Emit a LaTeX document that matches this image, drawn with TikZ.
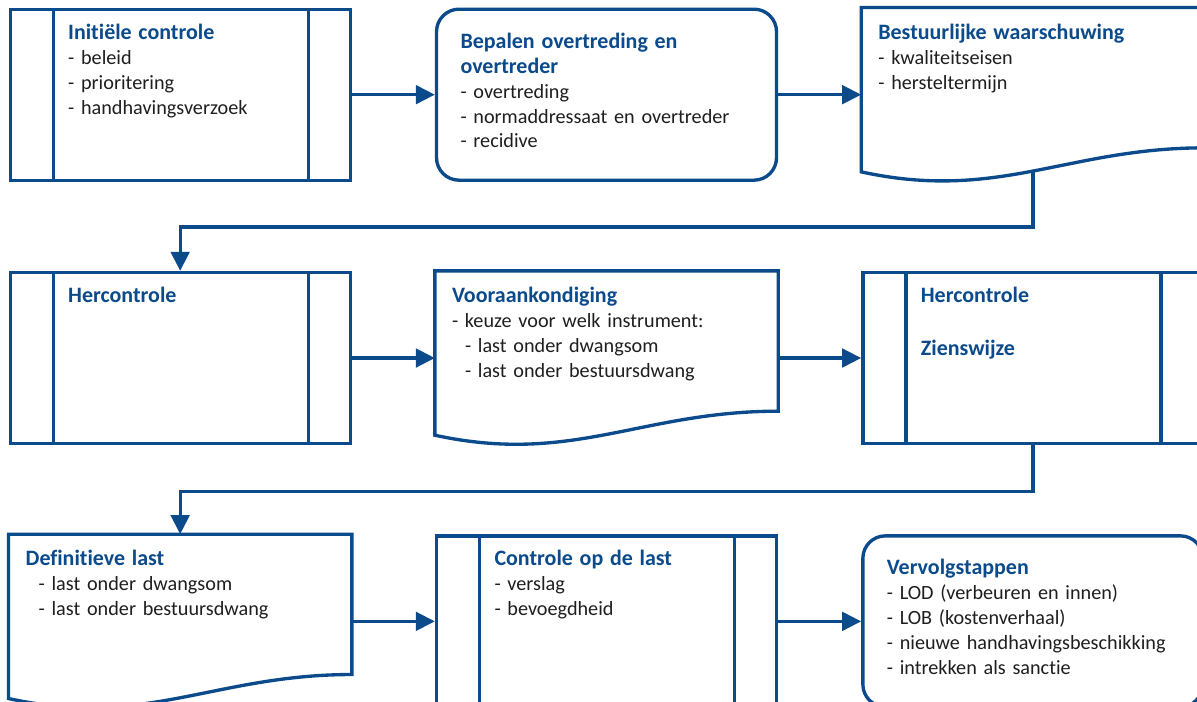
\documentclass[tikz,border=0pt]{standalone}
\usepackage{fontspec}
\setmainfont[Ligatures=CommonOff]{Carlito}
\usetikzlibrary{positioning, arrows.meta, calc}

\definecolor{stepblue}{HTML}{0B4A8B}
\definecolor{steptext}{HTML}{1E1E1E}

\newcommand{\steptitle}[1]{{\fontsize{12.5pt}{14.2pt}\selectfont\bfseries\color{stepblue}#1}}
\newcommand{\docoutline}[1]{%
  \draw[step_line] (#1.north east) -- (#1.north west) -- ([yshift=0.2cm]#1.south west)
    .. controls ($(#1.south west)!0.4!(#1.south east)+(0,-0.4)$)
    and ($(#1.south west)!0.6!(#1.south east)+(0,0.68)$)
    .. ([yshift=0.68cm]#1.south east) coordinate[pos=0.5] (#1-wave) -- cycle;}

\begin{document}
\begin{tikzpicture}[
        node distance=1.78cm and 1.66cm,
        step_line/.style={draw=stepblue, line width=1.9pt},
        base_node/.style={line width=1.9pt, align=left, text=steptext, minimum width=6.8cm, inner ysep=0.17cm, text height=0.43cm, text depth=2.65cm, font=\fontsize{11.5pt}{14.2pt}\selectfont},
        proc_node/.style={base_node, draw=stepblue, text width=4.48cm, inner xsep=1.16cm,
            path picture={\draw[stepblue, line width=1.9pt]
                ([xshift=0.86cm]path picture bounding box.north west) -- ([xshift=0.86cm]path picture bounding box.south west)
                ([xshift=-0.84cm]path picture bounding box.north east) -- ([xshift=-0.84cm]path picture bounding box.south east);}},
        round_node/.style={base_node, draw=stepblue, rounded corners=0.45cm, text width=5.84cm, inner xsep=0.48cm, text height=0.61cm, text depth=2.47cm},
        doc_node/.style={base_node, draw=none, text width=6.18cm, inner xsep=0.31cm},
        flow/.style={-{Triangle[length=0.38cm, width=0.37cm]}, draw=stepblue, line width=1.9pt}
    ]
        \useasboundingbox (0,0) rectangle (23.94,-14.02);
        \clip (0,0) rectangle (23.94,-14.02);

        % Nodes
        \node (initieel) [proc_node, anchor=north west] at (0.17,-0.15) {\steptitle{Initiële controle}\\- beleid\\- prioritering\\- handhavingsverzoek};
        \node (overtreding) [round_node, right=of initieel] {\steptitle{Bepalen overtreding en}\\\steptitle{overtreder}\\- overtreding\\- normaddressaat en overtreder\\- recidive};
        \node (waarschuwing) [doc_node, right=of overtreding] {\steptitle{Bestuurlijke waarschuwing}\\- kwaliteitseisen\\- hersteltermijn};
        \node (hercontrole) [proc_node, below=of initieel] {\steptitle{Hercontrole}};
        \node (vooraankondiging) [doc_node, right=of hercontrole] {\steptitle{Vooraankondiging}\\- keuze voor welk instrument:\\\hspace*{0.26cm}- last onder dwangsom\\\hspace*{0.26cm}- last onder bestuursdwang};
        \node (zienswijze) [proc_node, right=of vooraankondiging] {\steptitle{Hercontrole}\\[16pt]\steptitle{Zienswijze}};
        \node (definitief) [doc_node, below=of hercontrole] {\steptitle{Definitieve last}\\\hspace*{0.26cm}- last onder dwangsom\\\hspace*{0.26cm}- last onder bestuursdwang};
        \node (controlelast) [proc_node, right=of definitief] {\steptitle{Controle op de last}\\- verslag\\- bevoegdheid};
        \node (vervolg) [round_node, right=of controlelast] {\steptitle{Vervolgstappen}\\- LOD (verbeuren en innen)\\- LOB (kostenverhaal)\\- nieuwe handhavingsbeschikking\\- intrekken als sanctie};

        % Document outlines
        \docoutline{waarschuwing}
        \docoutline{vooraankondiging}
        \docoutline{definitief}

        % Arrows
        \draw [flow] (initieel) -- (overtreding);
        \draw [flow] (overtreding) -- (waarschuwing);
        \draw [flow] (waarschuwing-wave) -- ++(0,-1.12) -| (hercontrole.north);
        \draw [flow] (hercontrole) -- (vooraankondiging);
        \draw [flow] (vooraankondiging) -- (zienswijze);
        \draw [flow] (zienswijze.south) -- ++(0,-0.92) -| (definitief.north);
        \draw [flow] (definitief) -- (controlelast);
        \draw [flow] (controlelast) -- (vervolg);
    \end{tikzpicture}
\end{document}
